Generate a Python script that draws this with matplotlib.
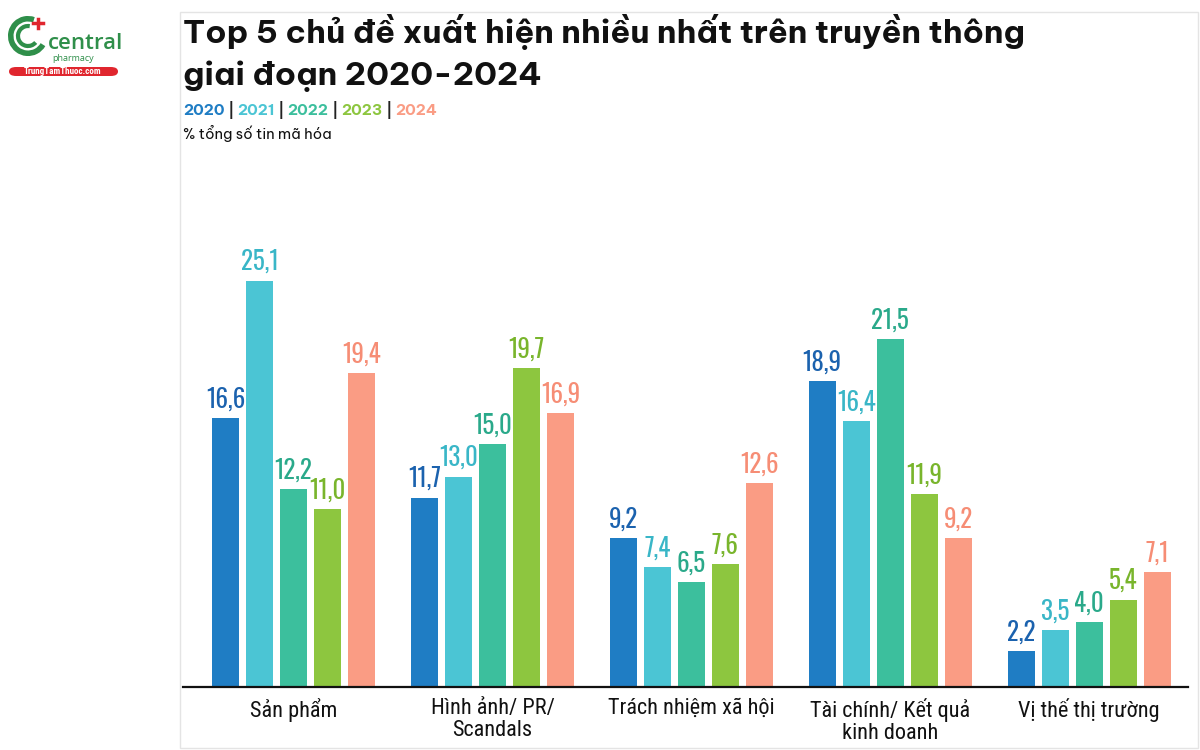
import numpy as np
import matplotlib.pyplot as plt
from matplotlib.patches import Rectangle, FancyBboxPatch, Arc

categories = ['Sản phẩm', 'Hình ảnh/ PR/\nScandals', 'Trách nhiệm xã hội',
              'Tài chính/ Kết quả\nkinh doanh', 'Vị thế thị trường']
years = ['2020', '2021', '2022', '2023', '2024']
v2020 = [16.6, 11.7, 9.2, 18.9, 2.2]
v2021 = [25.1, 13.0, 7.4, 16.4, 3.5]
v2022 = [12.2, 15.0, 6.5, 21.5, 4.0]
v2023 = [11.0, 19.7, 7.6, 11.9, 5.4]
v2024 = [19.4, 16.9, 12.6, 9.2, 7.1]
series = [v2020, v2021, v2022, v2023, v2024]

bar_colors = ['#1f7dc4', '#4bc5d4', '#3cbf9d', '#8dc63f', '#fa9c84']
label_colors = ['#1b62ae', '#39b6c7', '#2aa98a', '#79b52c', '#f68d75']

VALUE_FONT = ['Oswald', 'Barlow Condensed', 'DejaVu Sans']
CAT_FONT = ['Roboto Condensed', 'Barlow Semi Condensed', 'DejaVu Sans']
TITLE_FONT = ['Be Vietnam Pro', 'Lato', 'DejaVu Sans']

fig = plt.figure(figsize=(12, 7.5), dpi=100)

# light frame around the chart
fig.patches.append(Rectangle((180 / 1200, 2 / 750), 1018 / 1200, 736 / 750,
                             transform=fig.transFigure, fill=False,
                             edgecolor='#e4e4e4', linewidth=1.0))

ax = fig.add_axes([183 / 1200, 1 - 687 / 750, 1005 / 1200, 537 / 750])
x = np.arange(len(categories))
step = 0.171
width = 0.136
for i, vals in enumerate(series):
    pos = x + (i - 2) * step
    ax.bar(pos, vals, width=width, color=bar_colors[i], zorder=2)
    for px, v in zip(pos, vals):
        ax.annotate(f'{v:.1f}'.replace('.', ','), (px, v), xytext=(0, 4),
                    textcoords='offset points', ha='center', va='bottom',
                    fontsize=18, fontweight='bold', color=label_colors[i],
                    family=VALUE_FONT)

ax.set_xlim(-0.556, 4.497)
ax.set_ylim(0, 537 / 16.19)
ax.set_xticks(x)
ax.set_xticklabels(categories, fontsize=16, family=CAT_FONT, color='#111111',
                   va='top', linespacing=1.05)
ax.tick_params(axis='x', length=0, pad=8)
ax.set_yticks([])
for s in ['top', 'right', 'left']:
    ax.spines[s].set_visible(False)
ax.spines['bottom'].set_linewidth(1.6)
ax.spines['bottom'].set_color('#111111')

# title, sized to the reference width
fig.canvas.draw()
r = fig.canvas.get_renderer()
t1 = fig.text(183 / 1200, 1 - 43 / 750, 'Top 5 chủ đề xuất hiện nhiều nhất trên truyền thông',
              fontsize=25, fontweight='bold', family=TITLE_FONT, va='baseline', color='#111111')
w = t1.get_window_extent(r).width
tsize = 25 * 842 / w
t1.set_fontsize(tsize)
fig.text(183 / 1200, 1 - 85 / 750, 'giai đoạn 2020-2024',
         fontsize=tsize, fontweight='bold', family=TITLE_FONT, va='baseline', color='#111111')

# year legend as coloured text
xpos = 183
for i, y in enumerate(years):
    t = fig.text(xpos / 1200, 1 - 115 / 750, y, fontsize=11, fontweight='bold',
                 family=TITLE_FONT, color=bar_colors[i], va='baseline')
    xpos = t.get_window_extent(r).x1 + 3
    if i < len(years) - 1:
        t = fig.text(xpos / 1200, 1 - 115 / 750, '|', fontsize=11, fontweight='bold',
                     family=TITLE_FONT, color='#222222', va='baseline')
        xpos = t.get_window_extent(r).x1 + 3

fig.text(183 / 1200, 1 - 139 / 750, '% tổng số tin mã hóa', fontsize=10.5,
         family=TITLE_FONT, color='#111111', va='baseline')

# logo
lax = fig.add_axes([8 / 1200, 1 - 56 / 750, 40 / 1200, 40 / 750])
lax.set_xlim(-1.1, 1.1)
lax.set_ylim(-1.1, 1.1)
lax.axis('off')
lax.add_patch(Arc((0, 0), 1.9, 1.9, theta1=70, theta2=330, lw=4, color='#2f8f4a'))
lax.add_patch(Arc((0, 0), 1.1, 1.1, theta1=80, theta2=320, lw=3, color='#2f8f4a'))
lax.plot([0.55, 0.55], [0.45, 0.95], color='#e0262e', lw=2.5)
lax.plot([0.3, 0.8], [0.7, 0.7], color='#e0262e', lw=2.5)
fig.text(48 / 1200, 1 - 49 / 750, 'central', fontsize=16, fontweight='semibold',
         family=['Open Sans', 'DejaVu Sans'], color='#2f8f4a', va='baseline')
fig.text(52 / 1200, 1 - 61 / 750, 'pharmacy', fontsize=6.5,
         family=['Open Sans', 'DejaVu Sans'], color='#2f8f4a', va='baseline')
fig.patches.append(FancyBboxPatch((9 / 1200, 1 - 76 / 750), 109 / 1200, 9 / 750,
                                  boxstyle='round,pad=0,rounding_size=0.006',
                                  transform=fig.transFigure, facecolor='#e0262e',
                                  edgecolor='none'))
fig.text(63 / 1200, 1 - 71.5 / 750, 'TrungTamThuoc.com', fontsize=6.5, fontweight='bold',
         family=CAT_FONT, color='white', ha='center', va='center')

plt.savefig('out.png', dpi=100)
